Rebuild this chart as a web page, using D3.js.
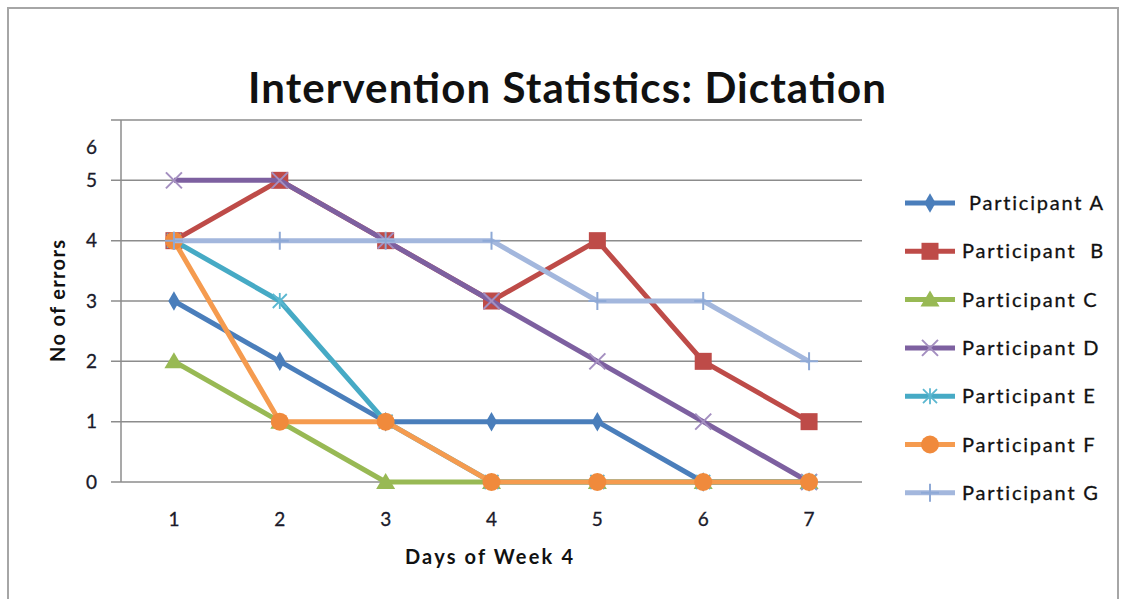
<!DOCTYPE html>
<html><head><meta charset="utf-8">
<script src="https://cdn.jsdelivr.net/npm/d3@7"></script>
<style>body{margin:0;background:#fff}svg{display:block}text{font-family:Lato,"Open Sans",sans-serif}</style>
</head><body>
<script>
const days = ["1","2","3","4","5","6","7"];
const yTicks = [0,1,2,3,4,5,6];
const seriesNames = [" Participant A","Participant  B","Participant C","Participant D","Participant E","Participant F","Participant G"];
const partA = [3,2,1,1,1,0,0];
const partB = [4,5,4,3,4,2,1];
const partC = [2,1,0,0,0,0,0];
const partD = [5,5,4,3,2,1,0];
const partE = [4,3,1,0,0,0,0];
const partF = [4,1,1,0,0,0,0];
const partG = [4,4,4,4,3,3,2];
const seriesValues = [partA,partB,partC,partD,partE,partF,partG];
const colors = ["#4a7ebb","#be4b48","#98b954","#7d60a0","#46aac5","#f59b4f","#a3b7dd"];
const markerColors = ["#4a7ebb","#be4b48","#98b954","#a48fc0","#5bb7d0","#f08a3c","#8ea9d6"];
const markers = ["diamond","square","triangle","x","star","circle","plus"];

const W=1124,H=599;
const svg=d3.select("body").append("svg").attr("width",W).attr("height",H);
svg.append("rect").attr("x",8).attr("y",8).attr("width",1110).attr("height",610)
  .attr("fill","none").attr("stroke","#a6a6a6").attr("stroke-width",2);

const x=d3.scalePoint().domain(days).range([121,862]).padding(0.5);
const y=d3.scaleLinear().domain([0,6]).range([482,120]);

// gridlines
svg.append("g").selectAll("line").data(yTicks).join("line")
  .attr("x1",111).attr("x2",862).attr("y1",d=>y(d)).attr("y2",d=>y(d))
  .attr("stroke","#8c8c8c").attr("stroke-width",1.5);
svg.append("line").attr("x1",121).attr("x2",121).attr("y1",120).attr("y2",482)
  .attr("stroke","#8c8c8c").attr("stroke-width",1.5);

// y labels (Excel draws the top label lower)
svg.append("g").selectAll("text").data(yTicks).join("text")
  .attr("x",97).attr("y",d=>d===6?y(5.55):y(d)).attr("dy","0.35em")
  .attr("text-anchor","end").attr("font-size",19).attr("fill","#1a1a2a").attr("stroke","#1a1a2a").attr("stroke-width",0.3).text(d=>d);
svg.append("g").selectAll("text").data(days).join("text")
  .attr("x",d=>x(d)).attr("y",519).attr("dy","0.35em")
  .attr("text-anchor","middle").attr("font-size",19).attr("fill","#1a1a2a").attr("stroke","#1a1a2a").attr("stroke-width",0.3).text(d=>d);

svg.append("text").attr("x",567).attr("y",103).attr("text-anchor","middle")
  .attr("font-size",42).attr("font-weight","bold").attr("fill","#111")
  .attr("textLength",638).attr("lengthAdjust","spacing")
  .text("Intervention Statistics: Dictation");
svg.append("text").attr("x",489).attr("y",557).attr("dy","0.35em").attr("text-anchor","middle")
  .attr("font-size",20).attr("font-weight","bold").attr("fill","#111")
  .attr("textLength",168).attr("lengthAdjust","spacing").text("Days of Week 4");
svg.append("text").attr("transform","translate(58,301) rotate(-90)").attr("dy","0.35em")
  .attr("text-anchor","middle").attr("font-size",20).attr("font-weight","bold").attr("fill","#111")
  .attr("textLength",122).attr("lengthAdjust","spacing").text("No of errors");

function drawMarker(g,type,cx,cy,col,s){
  s=s||1;
  if(type==="diamond"){
    g.append("path").attr("d",d3.symbol(d3.symbolDiamond,110*s)()).attr("transform",`translate(${cx},${cy})`).attr("fill",col);
  } else if(type==="square"){
    g.append("rect").attr("x",cx-8.5*s).attr("y",cy-8.5*s).attr("width",17*s).attr("height",17*s).attr("fill",col);
  } else if(type==="triangle"){
    g.append("path").attr("d",`M${cx},${cy-9*s}L${cx+9.5*s},${cy+7*s}L${cx-9.5*s},${cy+7*s}Z`).attr("fill",col);
  } else if(type==="circle"){
    g.append("circle").attr("cx",cx).attr("cy",cy).attr("r",9*s).attr("fill",col);
  } else if(type==="x"){
    const r=8*s;
    g.append("path").attr("d",`M${cx-r},${cy-r}L${cx+r},${cy+r}M${cx-r},${cy+r}L${cx+r},${cy-r}`).attr("stroke",col).attr("stroke-width",2).attr("fill","none");
  } else if(type==="star"){
    const r=7*s;
    g.append("path").attr("d",`M${cx-r},${cy-r}L${cx+r},${cy+r}M${cx-r},${cy+r}L${cx+r},${cy-r}M${cx},${cy-r-1}L${cx},${cy+r+1}`).attr("stroke",col).attr("stroke-width",1.8).attr("fill","none");
  } else if(type==="plus"){
    const r=9*s;
    g.append("path").attr("d",`M${cx-r},${cy}L${cx+r},${cy}M${cx},${cy-r}L${cx},${cy+r}`).attr("stroke",col).attr("stroke-width",2).attr("fill","none");
  }
}

const line=d3.line().x((d,i)=>x(days[i])).y(d=>y(d));
seriesValues.forEach((vals,si)=>{
  const g=svg.append("g");
  g.append("path").datum(vals).attr("d",line).attr("fill","none")
    .attr("stroke",colors[si]).attr("stroke-width",5).attr("stroke-linejoin","round");
  vals.forEach((v,i)=>drawMarker(g,markers[si],x(days[i]),y(v),markerColors[si]));
});

// legend
const legY0=203, legStep=48.3;
seriesNames.forEach((n,i)=>{
  const g=svg.append("g");
  const ly=legY0+i*legStep;
  g.append("line").attr("x1",905).attr("x2",955).attr("y1",ly).attr("y2",ly).attr("stroke",colors[i]).attr("stroke-width",5);
  drawMarker(g,markers[i],930,ly,markerColors[i]);
  g.append("text").attr("x",962).attr("y",ly).attr("dy","0.35em").attr("font-size",20).attr("fill","#111")
    .attr("stroke","#111").attr("stroke-width",0.3)
    .attr("letter-spacing",1.8).style("white-space","pre").text(n);
});
</script>
</body></html>
